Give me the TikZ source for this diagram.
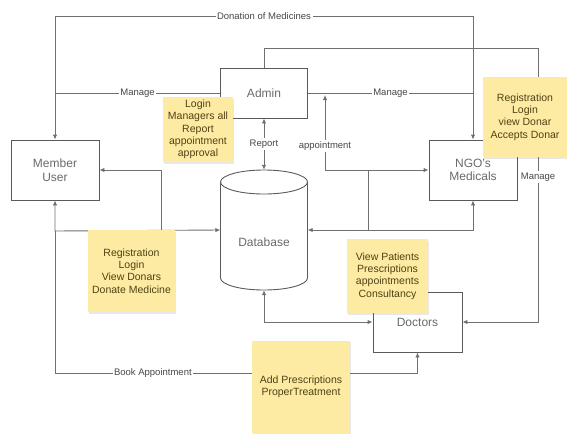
\documentclass[tikz,border=0pt]{standalone}
\usepackage{fontspec}
\setmainfont{Liberation Sans}
\usetikzlibrary{arrows.meta,shadows}
\definecolor{linec}{RGB}{112,112,112}
\definecolor{boxc}{RGB}{90,90,90}
\definecolor{boxtext}{RGB}{105,105,105}
\definecolor{stickyfill}{RGB}{253,235,163}
\definecolor{stickytext}{RGB}{78,66,20}
\tikzset{
  entity/.style={draw=boxc, line width=0.9pt, rectangle, inner sep=0pt, align=center,
    text=boxtext, font=\fontsize{12}{13.5}\selectfont},
  conn/.style={draw=linec, line width=0.9pt, arrows={-}},
  tipped/.style={conn, -{Latex[length=5pt,width=4.5pt]}},
  bitipped/.style={conn, {Latex[length=5pt,width=4.5pt]}-{Latex[length=5pt,width=4.5pt]}},
  lab/.style={fill=white, inner sep=1.5pt, text=black!72, font=\fontsize{9.5}{11}\selectfont},
  sticky/.style={rectangle, fill=stickyfill, inner sep=0pt, align=center, text=stickytext,
    font=\fontsize{10.5}{12.3}\selectfont,
    drop shadow={shadow xshift=0.6pt, shadow yshift=-1.6pt, opacity=0.18}},
}
\begin{document}
\begin{tikzpicture}[x=1pt,y=-1pt]
\useasboundingbox (0,0) rectangle (567,434);
% entities
\node[entity, minimum width=88pt, minimum height=60pt] (member) at (55,170) {Member\\User};
\node[entity, minimum width=87pt, minimum height=50pt] (admin) at (264,93) {Admin};
\node[entity, minimum width=88pt, minimum height=60pt] (ngo) at (473,170) {NGO's\\Medicals};
\node[entity, minimum width=89pt, minimum height=60pt] (doctors) at (417.5,322) {Doctors};
% database cylinder
\node[rectangle, inner sep=0pt, minimum width=87pt, minimum height=120pt] (db) at (264,230) {};
\node[text=boxtext, font=\fontsize{12}{13.5}\selectfont] (dbtext) at (264,242) {Database};
\draw[draw=boxc, line width=0.9pt] (264,182) ellipse [x radius=43.5pt, y radius=12pt];
\draw[draw=boxc, line width=0.9pt] (220.5,182) -- (220.5,278)
  arc[start angle=180, end angle=360, x radius=43.5pt, y radius=12pt] -- (307.5,182);
% free-end coordinates
\coordinate (apptop) at (325,95);
\coordinate (j1) at (368,170);
\coordinate (j2) at (368,230);
\coordinate (mj) at (161,231);
% connectors
\draw[bitipped] (member.north) -- (55,16) -- node[lab]{Donation of Medicines} (473,16) -- (ngo.north);
\draw[conn] (admin.west) -- node[lab]{Manage} (55,93);
\draw[conn] (admin.east) -- node[lab]{Manage} (473,93);
\draw[tipped] (admin.north) -- (264,48) -- (538,48) -- node[lab, pos=0.47]{Manage} (538,322) -- (doctors.east);
\draw[bitipped] (admin.south) -- node[lab]{Report} (db.north);
\draw[bitipped] (apptop) -- node[lab, pos=0.68]{appointment} (325,170) -- (ngo.west);
\draw[conn] (j1) -- (j2);
\draw[bitipped] (db.east) -- (473,230) -- (ngo.south);
\draw[tipped] (mj) -- (161,170) -- (member.east);
\draw[bitipped] (member.south) -- (55,231) -- (db.west);
\draw[tipped] (55,231) -- (55,373) -- node[lab, pos=0.27]{Book Appointment} (417.5,373) -- (doctors.south);
\draw[bitipped] (db.south) -- (264,322) -- (doctors.west);
% sticky notes
\node[sticky, minimum width=70pt, minimum height=65pt] (s1) at (198,129.5) {Login\\Managers all\\Report\\appointment\\approval};
\node[sticky, minimum width=84pt, minimum height=80pt] (s2) at (525,117) {Registration\\Login\\view Donar\\Accepts Donar};
\node[sticky, minimum width=87pt, minimum height=82pt] (s3) at (131.5,271) {Registration\\Login\\View Donars\\Donate Medicine};
\node[sticky, minimum width=81pt, minimum height=74pt] (s4) at (387.5,276) {View Patients\\Prescriptions\\appointments\\Consultancy};
\node[sticky, minimum width=98pt, minimum height=92pt] (s5) at (301,386.5) {Add Prescriptions\\ProperTreatment};
\end{tikzpicture}
\end{document}
